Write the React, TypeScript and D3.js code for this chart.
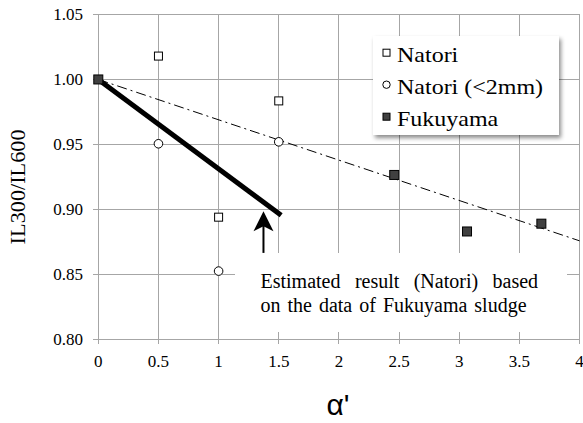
import React from "react";
import * as d3 from "d3";

const W = 583;
const H = 423;

const xTicks = [0, 0.5, 1, 1.5, 2, 2.5, 3, 3.5, 4];
const xTickLabels = ["0", "0.5", "1", "1.5", "2", "2.5", "3", "3.5", "4"];
const yTicks = [0.8, 0.85, 0.9, 0.95, 1.0, 1.05];
const yTickLabels = ["0.80", "0.85", "0.90", "0.95", "1.00", "1.05"];

const natoriX = [0.5, 1, 1.5];
const natoriY = [1.018, 0.894, 0.9835];
const natori2X = [0.5, 1, 1.5];
const natori2Y = [0.9505, 0.8525, 0.952];
const fukuyamaX = [0, 2.46, 3.065, 3.683];
const fukuyamaY = [1.0, 0.9265, 0.883, 0.889];

const trendX = [0, 4];
const trendY = [1.0, 0.8758];
const estimateX = [0, 1.52];
const estimateY = [1.0, 0.8955];

const arrowX = 1.373;
const arrowFromY = 0.8665;
const arrowToY = 0.8985;

const legendLabels = ["Natori", "Natori (<2mm)", "Fukuyama"];
const noteLines = ["Estimated result (Natori) based", "on the data of Fukuyama sludge"];

const SERIF = "'Liberation Serif', 'Times New Roman', serif";
const SANS = "'Liberation Sans', Arial, sans-serif";
const GRID = "#a6a6a6";

export default function App() {
  const x = d3.scaleLinear().domain([0, 4]).range([98.3, 579.5]);
  const y = d3.scaleLinear().domain([0.8, 1.05]).range([339.3, 14.5]);
  const line = d3.line<[number, number]>().x((d) => x(d[0])).y((d) => y(d[1]));

  const trend = trendX.map((v, i) => [v, trendY[i]] as [number, number]);
  const est = estimateX.map((v, i) => [v, estimateY[i]] as [number, number]);

  const ax = x(arrowX);
  const ay0 = y(arrowFromY);
  const ay1 = y(arrowToY);

  const x0 = x(0), x1 = x(4), y0 = y(0.8), y1 = y(1.05);

  return (
    <svg width={W} height={H} style={{ position: "absolute", left: 0, top: 0, background: "#fff" }}>
      <defs>
        <filter id="shadow" x="-10%" y="-10%" width="125%" height="135%">
          <feDropShadow dx="2" dy="3" stdDeviation="2" floodColor="#000" floodOpacity="0.45" />
        </filter>
      </defs>
      <rect width={W} height={H} fill="#fff" />
      {/* grid */}
      <g shapeRendering="crispEdges" stroke={GRID} strokeWidth={1}>
        {yTicks.map((t) => (
          <line key={"h" + t} x1={x0 - 5} x2={x1} y1={y(t)} y2={y(t)} />
        ))}
        {xTicks.map((t) => (
          <line key={"v" + t} x1={x(t)} x2={x(t)} y1={y1} y2={y0 + 5} />
        ))}
      </g>
      {/* annotation text box */}
      <rect x={235} y={253} width={332} height={79} fill="#fff" />
      {/* tick labels */}
      <g fontFamily={SERIF} fontSize={17} fill="#000">
        {yTicks.map((t, i) => (
          <text key={"yl" + t} x={83} y={y(t) + 5.5} textAnchor="end">
            {yTickLabels[i]}
          </text>
        ))}
        {xTicks.map((t, i) => (
          <text key={"xl" + t} x={x(t)} y={367} textAnchor="middle">
            {xTickLabels[i]}
          </text>
        ))}
      </g>
      {/* axis titles */}
      <text
        transform={`translate(25,${(y0 + y1) / 2 + 10}) rotate(-90)`}
        textAnchor="middle"
        fontFamily={SERIF}
        fontSize={20}
        textLength={115}
        lengthAdjust="spacingAndGlyphs"
      >
        IL300/IL600
      </text>
      <text x={338} y={415} textAnchor="middle" fontFamily={SANS} fontSize={30}>
        α'
      </text>
      {/* lines */}
      <path d={line(trend) || ""} fill="none" stroke="#000" strokeWidth={1} strokeDasharray="10,4,2,4" />
      <path d={line(est) || ""} fill="none" stroke="#000" strokeWidth={5} />
      {/* markers */}
      {natoriX.map((v, i) => (
        <rect key={"n" + i} x={x(v) - 4} y={y(natoriY[i]) - 4} width={8} height={8} fill="#fff" stroke="#000" strokeWidth={1} />
      ))}
      {natori2X.map((v, i) => (
        <circle key={"c" + i} cx={x(v)} cy={y(natori2Y[i])} r={4.3} fill="#fff" stroke="#000" strokeWidth={1} />
      ))}
      {fukuyamaX.map((v, i) => (
        <rect key={"f" + i} x={x(v) - 4.5} y={y(fukuyamaY[i]) - 4.5} width={9} height={9} fill="#404040" stroke="#000" strokeWidth={1} />
      ))}
      {/* arrow */}
      <line x1={ax} x2={ax} y1={ay0} y2={ay1 + 12} stroke="#000" strokeWidth={2} />
      <path d={`M${ax},${ay1} L${ax - 10},${ay1 + 20} L${ax},${ay1 + 15} L${ax + 10},${ay1 + 20} Z`} fill="#000" />
      {/* annotation */}
      <text x={260.5} y={288} fontFamily={SERIF} fontSize={20} style={{ wordSpacing: "9.4px" }}>
        {noteLines[0]}
      </text>
      <text x={260.5} y={311.5} fontFamily={SERIF} fontSize={20} style={{ wordSpacing: "2px" }}>
        {noteLines[1]}
      </text>
      {/* legend */}
      <g>
        <rect x={373} y={36} width={186} height={99} fill="#fff" filter="url(#shadow)" />
        {legendLabels.map((lab, i) => {
          const by = 61.7 + i * 32;
          const cy = by - 9;
          return (
            <g key={lab}>
              {i === 0 && <rect x={383} y={cy - 3.5} width={7} height={7} fill="#fff" stroke="#000" strokeWidth={1} />}
              {i === 1 && <circle cx={386.5} cy={cy} r={3.7} fill="#fff" stroke="#000" strokeWidth={1} />}
              {i === 2 && <rect x={383} y={cy - 3.5} width={7} height={7} fill="#404040" stroke="#000" strokeWidth={1} />}
              <text
                transform={`translate(397,${by}) scale(1.2,1)`}
                fontFamily={SERIF}
                fontSize={20}
              >
                {lab}
              </text>
            </g>
          );
        })}
      </g>
    </svg>
  );
}
